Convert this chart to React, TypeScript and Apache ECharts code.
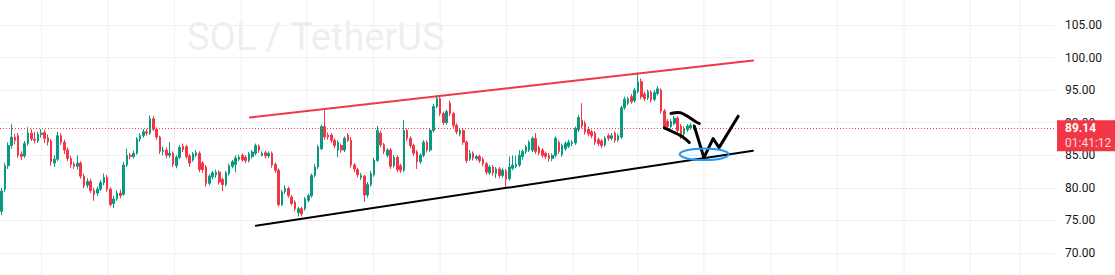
import React, { useEffect, useRef } from "react";
import * as echarts from "echarts";

// ---------- data ----------
const symbolName = "SOL / TetherUS";
const lastPrice = 89.14;
const countdown = "01:41:12";
const slotCount = 320; // candle slots across the pane (incl. empty future space)

// [open, close, low, high]
const candles: number[][] = [
  [76.4, 79.5, 75.8, 80.0], [79.8, 83.4, 79.4, 83.8], [83.4, 86.5, 82.9, 87.0], [86.5, 87.8, 86.0, 89.8],
  [87.8, 87.3, 86.7, 88.3], [88.0, 85.0, 84.6, 88.4], [85.2, 84.8, 84.3, 85.6], [84.9, 86.8, 84.6, 87.2],
  [86.8, 88.4, 86.5, 89.3], [88.4, 87.5, 87.2, 89.0], [87.5, 87.3, 86.8, 88.6], [87.2, 88.2, 86.9, 88.6],
  [88.2, 88.4, 87.7, 89.0], [88.5, 87.6, 86.9, 88.9], [87.7, 87.1, 86.5, 88.2], [87.2, 84.0, 83.4, 87.5],
  [83.8, 84.4, 83.2, 85.0], [84.4, 88.0, 84.1, 88.6], [88.0, 87.0, 86.6, 88.4], [87.0, 85.8, 85.2, 87.4],
  [85.8, 84.5, 84.1, 86.2], [84.5, 83.6, 83.1, 84.9], [83.6, 83.3, 82.9, 84.0], [83.3, 83.8, 82.8, 85.0],
  [83.8, 81.8, 81.4, 84.1], [81.8, 80.3, 79.9, 82.2], [80.4, 81.0, 80.0, 81.5], [81.0, 79.6, 79.2, 81.4],
  [79.6, 79.0, 78.0, 80.0], [79.2, 79.8, 78.8, 80.2], [79.8, 80.8, 79.5, 81.2], [80.8, 81.6, 80.4, 82.2],
  [81.6, 79.8, 79.4, 82.0], [79.8, 77.4, 77.1, 80.1], [77.6, 78.3, 76.9, 78.8], [78.3, 79.2, 78.0, 79.6],
  [79.2, 78.8, 78.4, 79.7], [79.0, 83.5, 78.8, 84.0], [83.5, 85.0, 83.2, 86.0], [85.0, 84.8, 84.4, 85.4],
  [84.8, 85.3, 84.5, 85.7], [85.3, 87.5, 85.1, 87.8], [87.5, 88.0, 87.1, 88.4], [88.0, 88.6, 87.7, 89.0],
  [88.6, 88.4, 88.0, 89.0], [88.4, 90.6, 88.1, 91.1], [90.6, 89.0, 88.7, 91.0], [89.0, 87.8, 87.4, 89.3],
  [87.8, 85.6, 85.2, 88.0], [85.6, 85.8, 85.0, 86.3], [85.8, 85.0, 84.5, 86.2], [85.0, 85.3, 84.6, 87.0],
  [85.3, 83.6, 83.2, 85.6],
  [83.4, 84.7, 83.0, 85.0], [84.7, 86.2, 84.4, 86.6], [86.4, 85.9, 85.5, 86.8], [86.3, 84.8, 84.4, 86.6],
  [84.9, 83.8, 83.2, 85.2], [84.3, 85.2, 84.0, 85.5], [85.0, 85.4, 84.7, 85.8], [85.3, 82.8, 82.4, 85.6],
  [83.8, 82.8, 82.3, 84.1], [83.2, 80.7, 80.2, 83.5], [80.7, 81.8, 80.4, 82.1], [81.7, 82.3, 81.3, 82.6],
  [82.0, 82.4, 81.5, 82.8], [82.4, 80.9, 80.5, 82.7], [81.3, 80.5, 79.5, 81.6], [80.5, 82.3, 80.2, 82.6],
  [82.2, 83.4, 81.9, 83.7], [83.3, 84.0, 83.0, 84.3], [83.6, 84.6, 82.4, 85.0], [84.4, 84.7, 84.1, 85.1],
  [85.0, 84.3, 84.0, 85.3], [84.7, 84.2, 83.8, 85.0], [84.2, 85.2, 83.9, 85.5], [84.8, 85.5, 84.5, 85.8],
  [85.3, 86.5, 85.0, 86.8], [86.4, 85.8, 85.4, 86.7], [85.0, 85.3, 84.8, 85.6], [85.4, 84.9, 84.5, 85.7],
  [84.9, 85.3, 84.6, 85.6], [85.3, 83.5, 83.1, 85.6], [83.6, 82.7, 82.3, 83.9], [82.7, 77.4, 77.1, 83.0],
  [77.4, 79.4, 77.2, 79.7], [79.4, 79.9, 79.1, 80.4], [79.9, 78.8, 78.5, 80.2], [78.6, 77.6, 77.3, 78.9],
  [77.8, 76.8, 76.4, 78.1], [76.2, 76.8, 75.6, 77.1], [76.8, 76.0, 75.6, 77.1], [76.8, 78.3, 76.5, 78.6],
  [78.1, 78.8, 77.8, 79.1], [78.8, 81.9, 78.5, 82.2], [81.9, 83.2, 81.6, 83.6], [83.2, 86.3, 82.9, 86.6],
  [86.0, 89.4, 85.8, 89.7], [89.4, 87.8, 87.4, 91.9], [88.1, 87.8, 87.4, 88.5], [88.1, 87.3, 86.9, 88.4],
  [87.3, 86.5, 86.1, 87.6], [85.8, 87.0, 84.7, 87.3], [86.5, 85.8, 85.4, 86.8], [85.8, 87.6, 85.5, 87.9],
  [88.1, 87.3, 87.0, 88.4],
  [87.3, 83.5, 83.1, 87.8], [83.5, 82.9, 82.4, 83.8], [82.8, 82.0, 81.6, 83.1], [81.6, 81.9, 81.2, 82.3],
  [81.8, 78.9, 77.9, 82.0], [78.9, 80.5, 78.5, 80.9], [80.5, 82.2, 80.2, 82.6], [82.0, 84.2, 81.7, 84.6],
  [84.2, 88.8, 84.0, 89.5], [88.4, 86.6, 86.2, 88.8], [86.6, 85.6, 85.2, 86.9], [85.0, 85.8, 84.7, 86.1],
  [85.8, 83.3, 82.9, 86.1], [83.4, 84.7, 83.1, 85.0], [84.7, 82.8, 82.4, 85.0], [83.4, 82.7, 82.3, 83.7],
  [82.7, 88.8, 82.4, 90.4], [88.8, 87.6, 87.2, 89.1], [87.6, 86.5, 86.1, 87.9], [86.5, 85.3, 84.9, 86.8],
  [85.5, 84.0, 82.9, 85.8], [84.0, 85.0, 83.7, 85.3], [85.0, 87.0, 84.7, 87.3], [87.0, 85.8, 85.4, 87.3],
  [85.8, 88.8, 85.5, 89.1], [88.8, 92.5, 88.5, 92.9], [92.5, 93.7, 92.2, 94.2], [93.7, 91.4, 91.0, 94.0],
  [91.4, 90.0, 89.6, 91.7], [90.0, 91.7, 89.7, 92.0], [93.0, 91.4, 91.0, 93.4], [91.4, 89.6, 89.2, 91.7],
  [89.6, 88.6, 88.2, 89.9], [88.3, 88.8, 87.9, 89.1], [88.8, 87.0, 86.6, 89.1], [87.0, 84.2, 83.8, 87.3],
  [84.4, 85.3, 84.1, 85.8], [85.3, 84.6, 84.2, 85.6], [84.5, 84.8, 84.2, 85.1], [84.8, 84.2, 83.8, 85.1],
  [84.4, 83.7, 83.3, 84.7], [83.7, 82.4, 82.0, 84.0], [82.3, 83.2, 82.0, 83.5], [83.2, 82.3, 81.9, 83.5],
  [82.2, 82.9, 81.5, 83.2], [82.9, 81.9, 81.5, 83.2], [81.9, 82.7, 81.6, 83.0], [82.6, 81.3, 80.1, 82.9],
  [81.4, 83.2, 81.1, 84.8], [83.0, 83.5, 82.7, 85.0], [83.3, 83.6, 83.0, 84.9], [83.5, 85.0, 83.2, 85.8],
  [84.8, 85.6, 84.3, 85.9],
  [85.6, 86.3, 85.2, 86.6], [85.8, 87.0, 85.5, 87.3], [85.8, 87.6, 85.5, 87.9], [87.6, 85.6, 85.2, 88.4],
  [86.2, 85.4, 85.0, 86.5], [85.8, 85.0, 84.6, 86.1], [85.3, 84.8, 84.4, 85.6], [85.0, 84.5, 84.0, 85.3],
  [84.5, 85.0, 84.1, 85.3], [85.0, 87.6, 84.7, 87.9], [87.0, 85.6, 85.2, 87.3], [85.1, 86.5, 84.8, 86.8],
  [86.0, 86.8, 85.7, 87.1], [86.4, 87.0, 86.1, 87.4], [86.8, 87.0, 86.4, 87.3], [86.9, 89.1, 86.6, 89.4],
  [88.9, 90.8, 88.6, 91.2], [90.4, 89.5, 89.1, 93.0], [89.9, 88.6, 88.2, 90.3], [89.0, 88.3, 87.9, 89.4],
  [88.6, 88.0, 87.6, 88.9], [88.4, 87.0, 86.6, 88.7], [87.4, 86.8, 86.4, 87.7], [87.2, 86.5, 86.1, 87.5],
  [86.6, 87.6, 86.3, 87.9], [88.0, 87.6, 87.2, 88.3], [87.6, 88.0, 87.3, 88.4], [88.4, 87.3, 86.9, 88.7],
  [87.4, 88.0, 87.1, 88.3], [87.8, 92.3, 87.5, 92.6], [92.3, 93.6, 92.0, 94.0], [93.0, 93.7, 92.7, 94.0],
  [94.0, 93.2, 92.9, 94.4], [93.4, 95.0, 93.1, 95.3], [94.8, 96.3, 94.5, 97.7], [96.3, 94.0, 93.6, 96.8],
  [94.4, 93.7, 93.3, 94.8], [93.8, 94.8, 93.5, 95.1], [94.7, 93.5, 93.1, 95.0], [93.6, 94.6, 93.3, 95.0],
  [94.5, 95.2, 94.2, 95.6], [95.0, 91.8, 91.4, 95.3], [91.8, 89.4, 89.0, 92.1], [90.2, 89.4, 89.0, 90.6],
  [89.4, 90.2, 89.1, 90.6], [89.9, 90.7, 89.6, 91.0], [90.7, 88.8, 88.4, 91.0], [89.5, 88.3, 87.5, 89.8],
  [88.3, 89.1, 87.4, 89.4], [88.9, 89.5, 88.6, 89.8], [89.2, 89.6, 88.9, 89.9], [89.6, 89.14, 88.9, 89.8],
];

// annotations in [slot index, price]
const resistanceLine = [[75.3, 90.8], [227.9, 99.55]];
const supportLine = [[77.1, 74.2], [227.9, 85.7]];
const arcStroke = [[203.0, 91.42], [205.2, 91.57], [207.8, 91.05], [210.3, 90.23], [211.6, 89.88]];
const lowerStroke = [[201.0, 89.2], [203.2, 88.69], [206.3, 87.92], [208.6, 86.95]];
const wStroke = [[210.1, 89.46], [213.0, 84.65], [215.8, 87.57], [217.6, 86.18], [223.4, 91.0]];
// [centerIdx, centerPrice, radiusIdx, radiusPrice]
const targetEllipse = [[213.1, 85.15, 7.43, 0.89]];
// time grid positions (slot index)
const timeGrid = [12.1, 32.3, 52.4, 72.6, 92.6, 112.8, 133.0, 153.1, 173.3, 193.0, 213.0, 233.4, 253.4, 273.7, 293.7, 308.9];
const priceMin = 70;
const priceMax = 105;
const priceStep = 5;

const UP = "#089981";
const DOWN = "#F23645";
const GRID = "#EEF0F3";
const FONT = "Roboto, 'Noto Sans', sans-serif";

const categories = candles.map((_, i) => String(i)).concat(
  Array.from({ length: slotCount - candles.length }, (_, i) => String(candles.length + i))
);

function strokeSeries(data: number[][], color: string, width: number, smooth: number | boolean = false) {
  return {
    type: "line",
    xAxisIndex: 1,
    yAxisIndex: 0,
    data,
    smooth,
    showSymbol: false,
    symbol: "none",
    silent: true,
    z: 5,
    lineStyle: { color, width, cap: "round", join: "round" },
  };
}

export default function App() {
  const ref = useRef<HTMLDivElement>(null);
  useEffect(() => {
    const chart = echarts.init(ref.current!, null, { renderer: "svg" });
    const option: any = {
      animation: false,
      backgroundColor: "#ffffff",
      grid: { left: 0, right: 60, top: 25, bottom: 22, containLabel: false },
      xAxis: [
        { type: "category", data: categories, boundaryGap: true, show: false },
        { type: "value", min: -0.5, max: slotCount - 0.5, show: false },
      ],
      yAxis: {
        type: "value",
        position: "right",
        min: priceMin,
        max: priceMax,
        interval: priceStep,
        z: 0,
        axisLine: { show: false },
        axisTick: { show: false },
        splitLine: { show: true, lineStyle: { color: GRID, width: 1 } },
        axisLabel: {
          margin: 10,
          color: "#131722",
          fontSize: 12,
          fontFamily: FONT,
          formatter: (v: number) => v.toFixed(2),
        },
      },
      series: [
        {
          type: "custom",
          xAxisIndex: 1,
          yAxisIndex: 0,
          silent: true,
          clip: false,
          z: 1,
          data: timeGrid.map((v) => [v, 90]),
          renderItem: (params: any, api: any) => {
            const x = api.coord([api.value(0), api.value(1)])[0];
            return {
              type: "line",
              shape: { x1: x, y1: 0, x2: x, y2: api.getHeight() },
              style: { stroke: GRID, lineWidth: 1 },
            };
          },
        },
        {
          type: "candlestick",
          data: candles,
          barWidth: 2.1,
          z: 3,
          itemStyle: {
            color: UP,
            color0: DOWN,
            borderColor: UP,
            borderColor0: DOWN,
            borderWidth: 1,
          },
          markLine: {
            silent: true,
            symbol: "none",
            label: { show: false },
            lineStyle: { color: DOWN, type: [1, 2], width: 1 },
            data: [{ yAxis: lastPrice }],
          },
        },
        strokeSeries(resistanceLine, "#F23645", 2),
        strokeSeries(supportLine, "#000000", 2),
        strokeSeries(arcStroke, "#000000", 3, 0.5),
        strokeSeries(lowerStroke, "#000000", 3, 0.3),
        strokeSeries(wStroke, "#000000", 3),
        {
          type: "custom",
          xAxisIndex: 1,
          yAxisIndex: 0,
          silent: true,
          z: 6,
          data: targetEllipse,
          renderItem: (params: any, api: any) => {
            const c = api.coord([api.value(0), api.value(1)]);
            const s = api.size([api.value(2), api.value(3)]);
            return {
              type: "ellipse",
              shape: { cx: c[0], cy: c[1], rx: s[0], ry: s[1] },
              style: { fill: "rgba(33,150,243,0.04)", stroke: "#2196F3", lineWidth: 2 },
            };
          },
        },
      ],
    };
    chart.setOption(option);
    const py = chart.convertToPixel({ yAxisIndex: 0 }, lastPrice) as number;
    const paneRight = chart.getWidth() - 60;
    chart.setOption({
      graphic: [
        {
          id: "wm",
          type: "text",
          left: 187,
          top: 18,
          silent: true,
          z: -1,
          style: {
            text: symbolName,
            fill: "rgba(120,123,134,0.14)",
            font: `38px ${FONT}`,
          },
        },
        {
          id: "pl-box",
          type: "rect",
          z: 100,
          zlevel: 1,
          shape: { x: paneRight + 2, y: py - 8, width: 60, height: 31 },
          style: { fill: DOWN },
        },
        {
          id: "pl-price",
          type: "text",
          z: 101,
          zlevel: 1,
          x: paneRight + 10,
          y: py,
          style: { text: lastPrice.toFixed(2), fill: "#ffffff", font: `bold 12px ${FONT}`, verticalAlign: "middle" },
        },
        {
          id: "pl-timer",
          type: "text",
          z: 101,
          zlevel: 1,
          x: paneRight + 10,
          y: py + 15,
          style: { text: countdown, fill: "rgba(255,255,255,0.82)", font: `12px ${FONT}`, verticalAlign: "middle" },
        },
      ],
    });
    return () => chart.dispose();
  }, []);
  return <div ref={ref} style={{ position: "absolute", left: 0, top: 0, width: 1115, height: 275 }} />;
}
